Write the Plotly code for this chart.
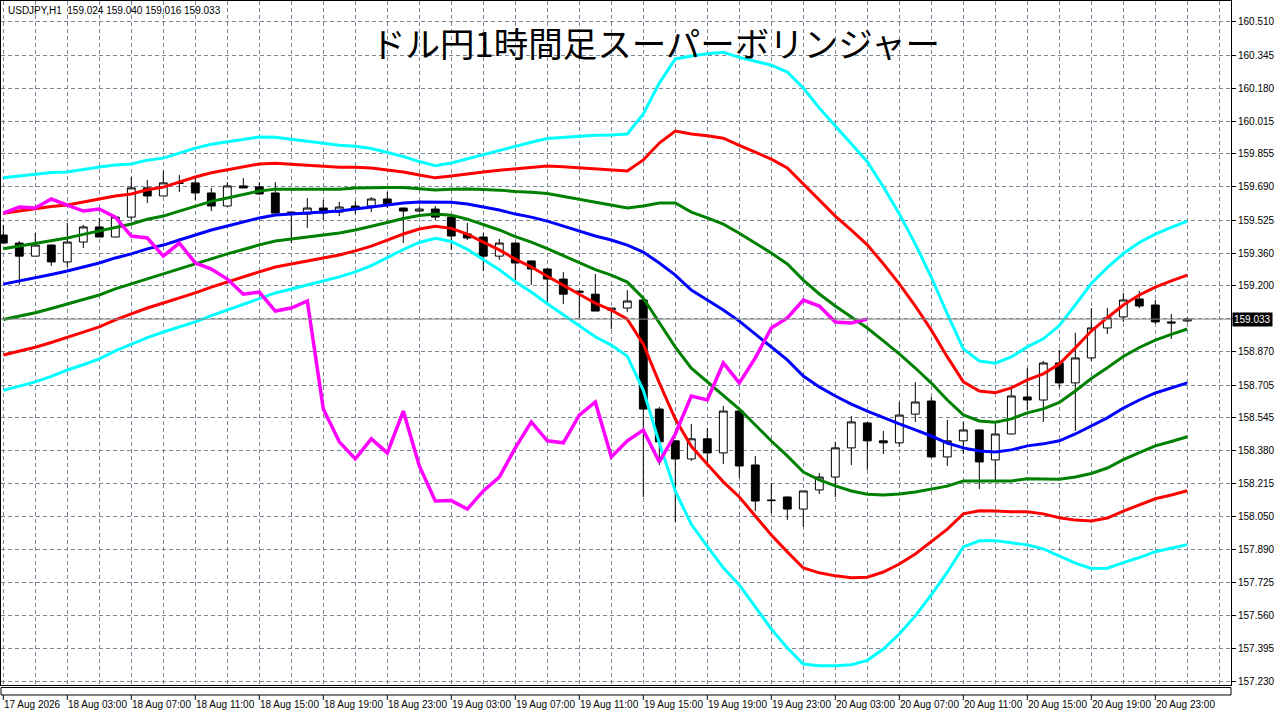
import plotly.graph_objects as go

# USDJPY H1, 17 Aug 23:00 -> 21 Aug 01:00 (75 bars)
time_labels = ["17 Aug 2026", "18 Aug 03:00", "18 Aug 07:00", "18 Aug 11:00", "18 Aug 15:00",
               "18 Aug 19:00", "18 Aug 23:00", "19 Aug 03:00", "19 Aug 07:00", "19 Aug 11:00",
               "19 Aug 15:00", "19 Aug 19:00", "19 Aug 23:00", "20 Aug 03:00", "20 Aug 07:00",
               "20 Aug 11:00", "20 Aug 15:00", "20 Aug 19:00", "20 Aug 23:00"]

opens = [159.451, 159.411, 159.346, 159.401, 159.317, 159.416, 159.491, 159.441, 159.540, 159.685,
         159.645, 159.710, 159.710, 159.660, 159.595, 159.695, 159.690, 159.660, 159.565, 159.555,
         159.585, 159.565, 159.595, 159.595, 159.630, 159.585, 159.570, 159.580, 159.540, 159.456,
         159.441, 159.346, 159.411, 159.322, 159.282, 159.232, 159.172, 159.157, 159.078, 159.088,
         159.128, 158.586, 158.428, 158.338, 158.438, 158.368, 158.576, 158.308, 158.134, 158.149,
         158.089, 158.184, 158.248, 158.393, 158.517, 158.428, 158.418, 158.561, 158.626, 158.348,
         158.428, 158.482, 158.333, 158.462, 158.646, 158.631, 158.815, 158.716, 158.840, 158.989,
         159.044, 159.133, 159.103, 159.019, 159.024]
highs = [159.501, 159.421, 159.461, 159.403, 159.511, 159.501, 159.536, 159.545, 159.739, 159.724,
         159.769, 159.749, 159.734, 159.685, 159.714, 159.734, 159.714, 159.714, 159.567, 159.635,
         159.625, 159.615, 159.620, 159.640, 159.665, 159.587, 159.590, 159.595, 159.545, 159.511,
         159.461, 159.431, 159.413, 159.324, 159.284, 159.267, 159.177, 159.257, 159.088, 159.177,
         159.148, 158.596, 158.430, 158.512, 158.492, 158.601, 158.581, 158.353, 158.218, 158.151,
         158.179, 158.268, 158.423, 158.551, 158.522, 158.477, 158.621, 158.720, 158.646, 158.532,
         158.522, 158.484, 158.512, 158.691, 158.790, 158.825, 158.880, 158.965, 159.088, 159.088,
         159.163, 159.173, 159.128, 159.058, 159.040]
lows = [159.406, 159.203, 159.346, 159.297, 159.292, 159.386, 159.441, 159.440, 159.526, 159.610,
        159.644, 159.665, 159.625, 159.570, 159.593, 159.685, 159.650, 159.560, 159.411, 159.486,
        159.526, 159.545, 159.555, 159.565, 159.585, 159.411, 159.565, 159.526, 159.377, 159.426,
        159.272, 159.327, 159.227, 159.203, 159.103, 159.108, 159.039, 159.073, 158.984, 159.068,
        158.149, 158.308, 158.025, 158.328, 158.298, 158.313, 158.244, 158.079, 158.069, 158.035,
        158.000, 158.164, 158.149, 158.308, 158.284, 158.363, 158.398, 158.522, 158.343, 158.303,
        158.363, 158.189, 158.224, 158.460, 158.581, 158.522, 158.691, 158.477, 158.825, 158.959,
        159.019, 159.088, 159.009, 158.934, 159.016]
closes = [159.411, 159.346, 159.401, 159.317, 159.416, 159.491, 159.441, 159.540, 159.685, 159.645,
          159.710, 159.708, 159.660, 159.595, 159.695, 159.685, 159.655, 159.560, 159.555, 159.585,
          159.560, 159.590, 159.585, 159.630, 159.600, 159.570, 159.580, 159.540, 159.446, 159.436,
          159.346, 159.411, 159.312, 159.282, 159.232, 159.157, 159.167, 159.073, 159.088, 159.123,
          158.586, 158.423, 158.338, 158.438, 158.368, 158.576, 158.303, 158.129, 158.131, 158.089,
          158.179, 158.248, 158.393, 158.522, 158.428, 158.418, 158.556, 158.621, 158.348, 158.428,
          158.482, 158.323, 158.462, 158.651, 158.631, 158.815, 158.716, 158.840, 158.989, 159.039,
          159.128, 159.098, 159.019, 159.014, 159.033]

# Bollinger middle line and one standard deviation
bb_mid = [159.207, 159.222, 159.237, 159.255, 159.272, 159.292, 159.312, 159.337, 159.357, 159.382,
          159.401, 159.426, 159.451, 159.476, 159.496, 159.516, 159.536, 159.550, 159.555, 159.560,
          159.565, 159.570, 159.580, 159.590, 159.600, 159.610, 159.615, 159.615, 159.614, 159.605,
          159.590, 159.575, 159.555, 159.540, 159.520, 159.496, 159.471, 159.446, 159.426, 159.401,
          159.366, 159.312, 159.252, 159.177, 159.128, 159.078, 159.023, 158.959, 158.894, 158.830,
          158.750, 158.696, 158.651, 158.611, 158.576, 158.542, 158.512, 158.482, 158.452, 158.417,
          158.393, 158.378, 158.373, 158.383, 158.403, 158.413, 158.428, 158.462, 158.502, 158.542,
          158.591, 158.631, 158.666, 158.691, 158.716]
bb_sd = [0.176, 0.174, 0.172, 0.169, 0.164, 0.162, 0.159, 0.154, 0.149, 0.147,
         0.144, 0.144, 0.144, 0.142, 0.139, 0.137, 0.134, 0.129, 0.124, 0.119,
         0.114, 0.109, 0.104, 0.097, 0.087, 0.077, 0.067, 0.060, 0.065, 0.075,
         0.087, 0.099, 0.112, 0.124, 0.137, 0.147, 0.157, 0.167, 0.174, 0.184,
         0.229, 0.298, 0.358, 0.388, 0.408, 0.427, 0.437, 0.452, 0.467, 0.477,
         0.477, 0.462, 0.447, 0.432, 0.413, 0.383, 0.348, 0.308, 0.263, 0.214,
         0.164, 0.149, 0.147, 0.154, 0.164, 0.174, 0.191, 0.214, 0.236, 0.249,
         0.256, 0.261, 0.263, 0.266, 0.268]

price_ticks = [160.510, 160.345, 160.180, 160.015, 159.855, 159.690, 159.525, 159.360, 159.200, 159.035,
               158.870, 158.705, 158.545, 158.380, 158.215, 158.050, 157.890, 157.725, 157.560, 157.395,
               157.230]
price_text = ["" if v == 159.035 else f"{v:.3f}" for v in price_ticks]

lag = 20  # lagging span: close drawn 20 bars back
bars = list(range(len(closes)))
last = closes[-1]

fig = go.Figure()

fig.add_trace(go.Candlestick(
    x=bars, open=opens, high=highs, low=lows, close=closes,
    increasing=dict(line=dict(color="black", width=1), fillcolor="white"),
    decreasing=dict(line=dict(color="black", width=1), fillcolor="black"),
    whiskerwidth=0, hoverinfo="skip"))

band_colors = {1: "#008000", 2: "#ff0000", 3: "#00ffff"}
for k in (3, 2, 1):
    for sign in (1, -1):
        fig.add_trace(go.Scatter(
            x=bars, y=[m + sign * k * s for m, s in zip(bb_mid, bb_sd)],
            mode="lines", line=dict(color=band_colors[k], width=3), hoverinfo="skip"))

fig.add_trace(go.Scatter(x=bars, y=bb_mid, mode="lines",
                         line=dict(color="#0000ff", width=3), hoverinfo="skip"))

fig.add_trace(go.Scatter(x=bars[:len(bars) - lag], y=closes[lag:], mode="lines",
                         line=dict(color="#ff00ff", width=3.5), hoverinfo="skip"))

# current price line
fig.add_hline(y=last, line=dict(color="#8a8a8a", width=1))

label_font = dict(family="Liberation Sans, Arial", size=10, color="black")

fig.add_annotation(x=1, xref="paper", y=last, yref="y", xanchor="left", xshift=1,
                   text=f"{last:.3f}", showarrow=False, bgcolor="black", borderpad=1,
                   font=dict(family="Liberation Sans, Arial", size=10, color="white"))

fig.add_annotation(x=0.004, y=0.9854, xref="paper", yref="paper", xanchor="left", yanchor="middle",
                   text="USDJPY,H1\u00a0\u00a0159.024 159.040 159.016 159.033",
                   showarrow=False, font=label_font)

fig.add_annotation(x=0.5325, y=0.94, xref="paper", yref="paper", xanchor="center", yanchor="middle",
                   text="ドル円1時間足スーパーボリンジャー", showarrow=False,
                   font=dict(family="Noto Sans CJK JP", size=34.5, color="black"))

# empty indicator strip under the chart
fig.add_shape(type="rect", xref="paper", yref="paper", x0=0, x1=1, y0=-0.0037, y1=-0.0146,
              line=dict(color="black", width=1))

for n, lab in enumerate(time_labels):
    i = n * 4
    fig.add_shape(type="line", xref="x", yref="paper", x0=i, x1=i, y0=-0.0146, y1=-0.0219,
                  line=dict(color="black", width=1))
    fig.add_annotation(x=i, y=-0.0278, xref="x", yref="paper", xanchor="left", yanchor="middle",
                       xshift=-1, text=lab, showarrow=False, font=label_font)

fig.update_layout(
    width=1277, height=716,
    margin=dict(l=1, r=46, t=1, b=31),
    paper_bgcolor="white", plot_bgcolor="white",
    showlegend=False,
    xaxis=dict(range=[-0.144, 76.73], tick0=0, dtick=2, showticklabels=False, ticks="",
               showgrid=True, gridcolor="#7a8794", griddash="4px,3px", gridwidth=1,
               zeroline=False, showline=True, mirror=True, linecolor="black", linewidth=1,
               rangeslider=dict(visible=False), fixedrange=True),
    yaxis=dict(range=[157.2145, 160.614], side="right", tickmode="array",
               tickvals=price_ticks, ticktext=price_text, ticks="outside", ticklen=4,
               tickcolor="black", tickfont=label_font,
               showgrid=True, gridcolor="#7a8794", griddash="4px,3px", gridwidth=1,
               zeroline=False, showline=True, mirror=True, linecolor="black", linewidth=1,
               fixedrange=True),
)

fig.write_html("out.html", config={"displayModeBar": False},
               post_script="document.body.style.margin='0';")
